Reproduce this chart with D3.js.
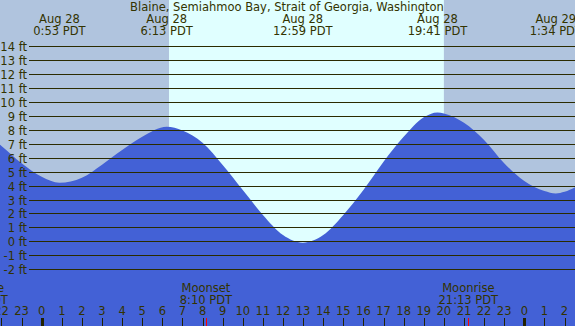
<!DOCTYPE html>
<html>
<head>
<meta charset="utf-8">
<script src="https://cdn.jsdelivr.net/npm/d3@7"></script>
<style>
  html, body { margin: 0; padding: 0; background: #b0c4de; }
  svg { display: block; }
  text { font-family: "DejaVu Sans", sans-serif; font-size: 11.5px; fill: #333300; }
</style>
</head>
<body>
<svg id="chart" width="575" height="326"></svg>
<script>
// ---- data ----
const title = "Blaine, Semiahmoo Bay, Strait of Georgia, Washington";
// hours since Aug 28 00:00 PDT, heights in ft
const sampleHours   = [-3, -2, -1, 0, 1, 2, 3, 4, 5, 6, 7, 8, 9, 10, 11, 12, 13, 14, 15, 16, 17, 18, 19, 20, 21, 22, 23, 24, 25, 26, 27];
const sampleHeights = [7.9, 6.85, 5.6, 4.63, 4.23, 4.56, 5.5, 6.55, 7.5, 8.15, 7.95, 7.07, 5.47, 3.68, 1.89, 0.45, -0.07, 0.45, 1.89, 3.68, 5.71, 7.5, 8.9, 9.18, 8.51, 7.27, 5.6, 4.33, 3.61, 3.56, 4.3];
// tide extremes
const extremeHours   = [0.883, 6.217, 12.983, 19.683, 25.567];
const extremeHeights = [4.2, 8.22, -0.1, 9.25, 3.44];
const extremeDates   = ["Aug 28", "Aug 28", "Aug 28", "Aug 28", "Aug 29"];
const extremeTimes   = ["0:53 PDT", "6:13 PDT", "12:59 PDT", "19:41 PDT", "1:34 PDT"];
// sun
const sunrise = 6.33, sunset = 20.0;
// moon events
const moonHours  = [-3.17, 8.167, 21.217];
const moonNames  = ["Moonrise", "Moonset", "Moonrise"];
const moonTimes  = ["20:50 PDT", "8:10 PDT", "21:13 PDT"];
// axis ticks
const feetTicks = [-2, -1, 0, 1, 2, 3, 4, 5, 6, 7, 8, 9, 10, 11, 12, 13, 14];
const hourTicks = d3.range(-2, 27);

// ---- chart ----
const W = 575, H = 326;
const svg = d3.select("#chart");
const x = d3.scaleLinear().domain([0, 24]).range([41.7, 524.3]);
const y = d3.scaleLinear().domain([0, 14]).range([241.3, 46.3]);

// background night / day
svg.append("rect").attr("x", 0).attr("y", 0).attr("width", W).attr("height", H).attr("fill", "#b0c4de");
svg.append("rect").attr("x", x(sunrise)).attr("y", 0)
  .attr("width", x(sunset) - x(sunrise)).attr("height", H).attr("fill", "#e0ffff");

// tide area
const pts = sampleHours.map((h, i) => ({h, v: sampleHeights[i]}))
  .concat(extremeHours.map((h, i) => ({h, v: extremeHeights[i]})))
  .sort((a, b) => a.h - b.h);
// drop hourly samples too close to an extreme
const pts2 = pts.filter((p, i) => {
  const isExt = extremeHours.includes(p.h);
  if (isExt) return true;
  return !extremeHours.some(e => Math.abs(e - p.h) < 0.3);
});
const area = d3.area().x(d => x(d.h)).y0(H).y1(d => y(d.v)).curve(d3.curveMonotoneX);
svg.append("path").datum(pts2).attr("d", area).attr("fill", "#4361d6");

// grid lines + feet labels
feetTicks.forEach(f => {
  const yy = Math.round(y(f)) + 0.5;
  svg.append("line").attr("x1", 29).attr("x2", W).attr("y1", yy).attr("y2", yy)
    .attr("stroke", "#2b2b00").attr("stroke-width", 1);
  svg.append("text").attr("x", 27).attr("y", yy + 4).attr("text-anchor", "end").text(f + " ft");
});

// title
svg.append("text").attr("x", 287).attr("y", 11).attr("text-anchor", "middle").text(title);

// extremes labels
extremeHours.forEach((h, i) => {
  svg.append("text").attr("x", x(h)).attr("y", 23).attr("text-anchor", "middle").text(extremeDates[i]);
  svg.append("text").attr("x", x(h)).attr("y", 35).attr("text-anchor", "middle").text(extremeTimes[i]);
});

// hour axis
hourTicks.forEach(h => {
  const xx = Math.round(x(h)) + 0.5;
  const lab = ((h % 24) + 24) % 24;
  svg.append("text").attr("x", x(h)).attr("y", 315).attr("text-anchor", "middle").text(lab);
  svg.append("line").attr("x1", xx).attr("x2", xx).attr("y1", 318).attr("y2", H)
    .attr("stroke", "#222200").attr("stroke-width", lab === 0 ? 3 : 1);
});

// moon events
moonHours.forEach((h, i) => {
  const xx = Math.round(x(h)) + 0.5;
  svg.append("line").attr("x1", xx).attr("x2", xx).attr("y1", 318).attr("y2", H)
    .attr("stroke", "#ff0000").attr("stroke-width", 1);
  svg.append("text").attr("x", x(h)).attr("y", 292).attr("text-anchor", "middle").text(moonNames[i]);
  svg.append("text").attr("x", x(h)).attr("y", 304).attr("text-anchor", "middle").text(moonTimes[i]);
});
</script>
</body>
</html>
